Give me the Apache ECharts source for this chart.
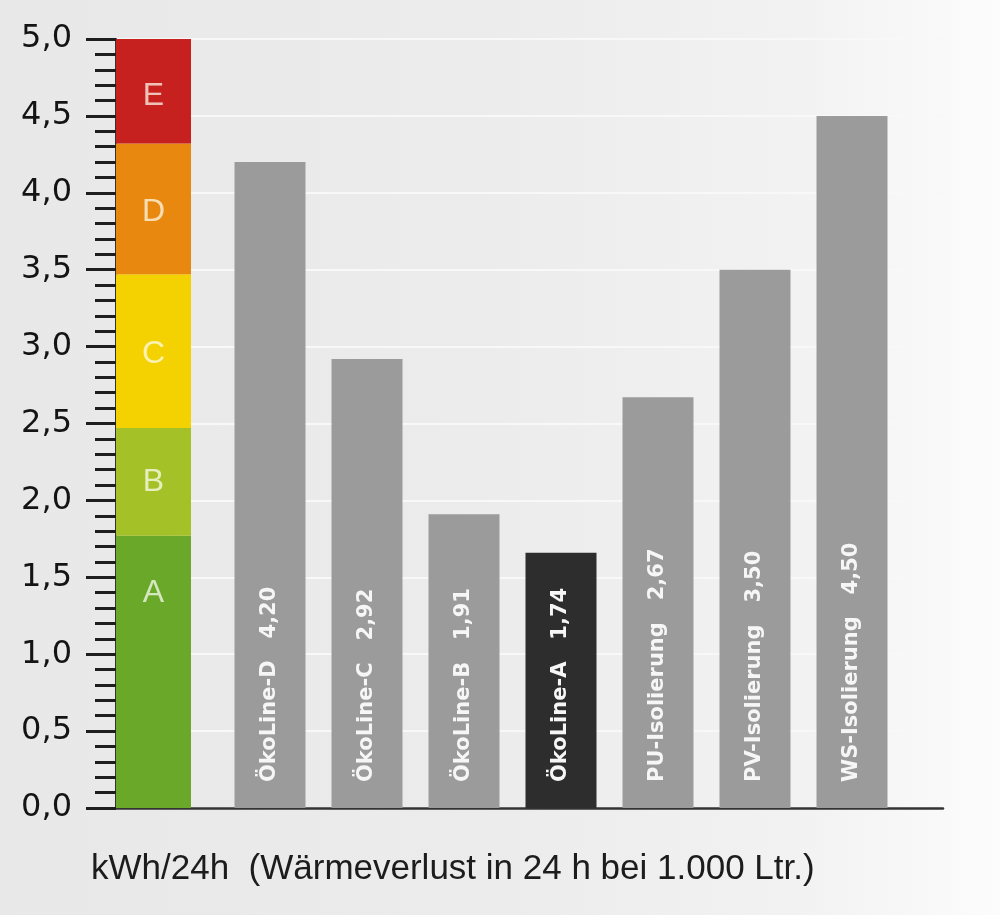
<!DOCTYPE html>
<html>
<head>
<meta charset="utf-8">
<script src="https://cdn.jsdelivr.net/npm/echarts@6/dist/echarts.min.js"></script>
<style>
html, body { margin: 0; padding: 0; }
#main01 { width: 1000px; height: 915px; }
</style>
</head>
<body>
<div id="main01"></div>
<script>
// Produkte und Wärmeverlust (kWh/24h)
var categories = ['ÖkoLine-D', 'ÖkoLine-C', 'ÖkoLine-B', 'ÖkoLine-A', 'PU-Isolierung', 'PV-Isolierung', 'WS-Isolierung'];
var barValues = [4.20, 2.92, 1.91, 1.66, 2.67, 3.50, 4.50];
var barLabels = ['4,20', '2,92', '1,91', '1,74', '2,67', '3,50', '4,50'];

// Effizienzklassen: obere Grenze je Klasse
var classNames = ['A', 'B', 'C', 'D', 'E'];
var classTops = [1.77, 2.47, 3.47, 4.32, 5.0];

var classColors = ['#6aa82a', '#a4c228', '#f4d100', '#e8880e', '#c6211e'];

var myChart = echarts.init(document.getElementById('main01'));

var scaleSeries = classNames.map(function (n, i) {
    var low = i ? classTops[i - 1] : 0;
    var lbl = {
        show: true,
        formatter: n,
        color: 'rgba(255,255,245,0.72)',
        fontSize: 32,
        fontFamily: 'Liberation Sans',
        position: 'inside'
    };
    if (n === 'A') {   // A steht nicht mittig
        lbl.position = ['50%', 57];
        lbl.align = 'center';
        lbl.verticalAlign = 'middle';
    }
    if (n === 'E') lbl.offset = [0, 5];
    if (n === 'D') lbl.offset = [0, 3];
    if (n === 'C') lbl.offset = [0, 3];
    return {
        name: n,
        type: 'bar',
        xAxisIndex: 1,
        yAxisIndex: 1,
        stack: 'scale',
        barWidth: '100%',
        itemStyle: { color: classColors[i] },
        label: lbl,
        data: [+(classTops[i] - low).toFixed(2)]
    };
});

var option = {
    backgroundColor: {
        type: 'linear', x: 0, y: 0, x2: 1, y2: 0,
        colorStops: [
            { offset: 0, color: '#e8e8e8' },
            { offset: 0.5, color: '#ececec' },
            { offset: 0.8, color: '#f2f2f2' },
            { offset: 1, color: '#fcfcfc' }
        ]
    },
    animation: false,
    title: {
        text: 'kWh/24h  (Wärmeverlust in 24 h bei 1.000 Ltr.)',
        left: 91,
        top: 852,
        padding: 0,
        textStyle: {
            color: '#1c1c1c',
            fontSize: 35,
            fontWeight: 'normal',
            fontFamily: 'Liberation Sans'
        }
    },
    grid: [
        { left: 116, right: 57, top: 39, bottom: 107 },   // Rahmen + Achse
        { left: 116, width: 75, top: 39, bottom: 107 },   // Farbskala
        { left: 221.5, width: 679, top: 39, bottom: 107 } // Balken
    ],
    xAxis: [
        {
            gridIndex: 0, type: 'value', min: 0, max: 1,
            axisLine: { show: true, lineStyle: { color: '#333', width: 2.5 } },
            axisTick: { show: false },
            axisLabel: { show: false },
            splitLine: { show: false }
        },
        { gridIndex: 1, type: 'category', data: ['Skala'], show: false },
        { gridIndex: 2, type: 'category', data: categories, show: false }
    ],
    yAxis: [
        {
            gridIndex: 0, type: 'value', min: 0, max: 5, interval: 0.5,
            axisLine: { show: true, lineStyle: { color: '#333', width: 2 } },
            axisTick: { show: true, length: 30, lineStyle: { color: '#1e1e1e', width: 3 } },
            minorTick: { show: true, splitNumber: 5, length: 21, lineStyle: { color: '#1e1e1e', width: 3 } },
            axisLabel: {
                margin: 44,
                color: '#141414',
                fontSize: 32,
                fontFamily: 'DejaVu Sans',
                formatter: function (v) { return v.toFixed(1).replace('.', ','); }
            },
            splitLine: { show: true, lineStyle: { color: '#f8f8f8', width: 2 } }
        },
        { gridIndex: 1, type: 'value', min: 0, max: 5, show: false },
        { gridIndex: 2, type: 'value', min: 0, max: 5, show: false }
    ],
    series: scaleSeries.concat([
        {
            name: 'Wärmeverlust',
            type: 'bar',
            xAxisIndex: 2,
            yAxisIndex: 2,
            barWidth: 71,
            data: barValues.map(function (v, i) {
                return { value: v, itemStyle: { color: i === 3 ? '#2d2d2d' : '#9b9b9b' } };
            }),
            label: {
                show: true,
                position: 'insideBottom',
                distance: 26,
                rotate: 90,
                align: 'left',
                verticalAlign: 'middle',
                color: '#f6f6f6',
                fontSize: 21,
                fontWeight: 'bold',
                fontFamily: 'DejaVu Sans',
                formatter: function (p) {
                    return p.name + '   ' + barLabels[p.dataIndex];
                }
            }
        }
    ])
};

myChart.setOption(option);
</script>
</body>
</html>
